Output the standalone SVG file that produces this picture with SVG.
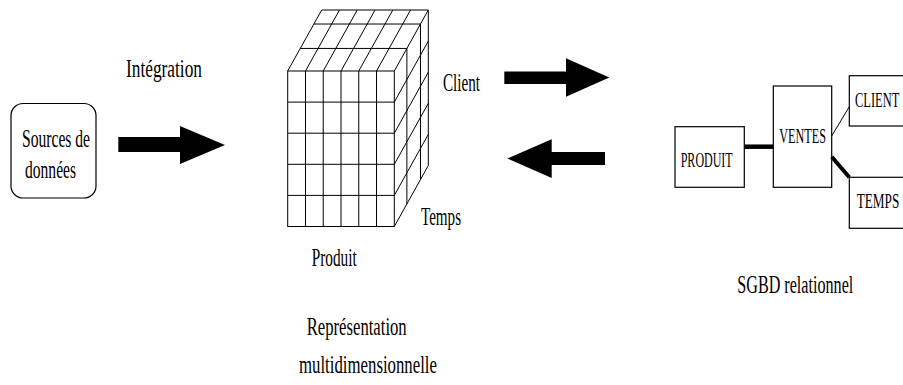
<svg xmlns="http://www.w3.org/2000/svg" width="903" height="385" viewBox="0 0 903 385">
<style>
text{font-family:"Liberation Serif","Times New Roman",serif;fill:#000;}
.t{font-size:26px;}
.s{font-size:22px;}
.box{fill:#fff;stroke:#000;stroke-width:1.2;}
.g{stroke:#000;stroke-width:1;fill:none;}
.arrow{fill:#000;stroke:none;}
</style>
<rect width="903" height="385" fill="#fff"/>
<g id="sources">
<rect class="box" x="11" y="103.5" width="85" height="94.5" rx="12"/>
<g transform="scale(0.6,1)">
<text class="t" x="36.67" y="147" textLength="113.33" lengthAdjust="spacingAndGlyphs">Sources de</text>
<text class="t" x="41.67" y="178" textLength="85" lengthAdjust="spacingAndGlyphs">données</text>
</g>
</g>
<g id="integration-label" transform="scale(0.6,1)">
<text class="t" x="210" y="77" textLength="126.67" lengthAdjust="spacingAndGlyphs">Intégration</text>
</g>
<g id="cube">
<g class="g">
<rect x="287.7" y="71" width="106.6" height="155.5"/>
<path d="M305.47 71V226.5M323.23 71V226.5M341 71V226.5M358.77 71V226.5M376.53 71V226.5"/>
<path d="M287.7 102.1H394.3M287.7 133.2H394.3M287.7 164.3H394.3M287.7 195.4H394.3"/>
<path d="M287.7 71L321.7 10M305.47 71L339.47 10M323.23 71L357.23 10M341 71L375 10M358.77 71L392.77 10M376.53 71L410.53 10M394.3 71L428.3 10"/>
<path d="M300.28 48.43H406.88M313.88 24.03H420.48M321.7 10H428.3"/>
<path d="M406.88 48.43V203.93M420.48 24.03V179.53M428.3 10V165.5"/>
<path d="M394.3 102.1L428.3 41.1M394.3 133.2L428.3 72.2M394.3 164.3L428.3 103.3M394.3 195.4L428.3 134.4M394.3 226.5L428.3 165.5"/>
</g>
<g transform="scale(0.6,1)">
<text class="t" x="738.33" y="91.5" textLength="61.67" lengthAdjust="spacingAndGlyphs">Client</text>
<text class="t" x="701.67" y="225.5" textLength="66.67" lengthAdjust="spacingAndGlyphs">Temps</text>
<text class="t" x="519.5" y="266" textLength="75" lengthAdjust="spacingAndGlyphs">Produit</text>
<text class="t" x="511.17" y="335" textLength="166.67" lengthAdjust="spacingAndGlyphs">Représentation</text>
<text class="t" x="498.33" y="373" textLength="230" lengthAdjust="spacingAndGlyphs">multidimensionnelle</text>
</g>
</g>
<g id="produit">
<rect class="box" x="675" y="126.7" width="69.3" height="60.6"/>
<text class="s" transform="scale(0.6,1)" x="1134.5" y="167.3" textLength="86.67" lengthAdjust="spacingAndGlyphs">PRODUIT</text>
</g>
<g id="ventes">
<rect class="box" x="773.3" y="86" width="58.4" height="101.3"/>
<text class="s" transform="scale(0.6,1)" x="1298.83" y="143.3" textLength="77.83" lengthAdjust="spacingAndGlyphs">VENTES</text>
</g>
<g id="client">
<rect class="box" x="849.3" y="75.7" width="70" height="50.3"/>
<text class="s" transform="scale(0.6,1)" x="1425" y="106.7" textLength="73.83" lengthAdjust="spacingAndGlyphs">CLIENT</text>
</g>
<g id="temps">
<rect class="box" x="849.3" y="177.3" width="70" height="51"/>
<text class="s" transform="scale(0.6,1)" x="1427.83" y="208.3" textLength="71" lengthAdjust="spacingAndGlyphs">TEMPS</text>
</g>
<g id="sgbd-label" transform="scale(0.6,1)">
<text class="t" x="1228.83" y="293" textLength="193.33" lengthAdjust="spacingAndGlyphs">SGBD relationnel</text>
</g>
<g id="connectors">
<polygon class="arrow" points="118.3,137 180,137 180,126 225,145 180,164 180,152 118.3,152"/>
<polygon class="arrow" points="504.3,71.5 566,71.5 566,58.3 609.3,77.5 566,96.7 566,84 504.3,84"/>
<polygon class="arrow" points="605,152 551.7,152 551.7,139.3 507.3,158.5 551.7,178 551.7,165 605,165"/>
<line x1="744.3" y1="146.7" x2="773.3" y2="146.7" stroke="#000" stroke-width="4.5"/>
<line x1="831.7" y1="136" x2="849.3" y2="106.7" stroke="#000" stroke-width="1"/>
<line x1="831.7" y1="156.7" x2="849.3" y2="177.3" stroke="#000" stroke-width="4"/>
</g>
</svg>
